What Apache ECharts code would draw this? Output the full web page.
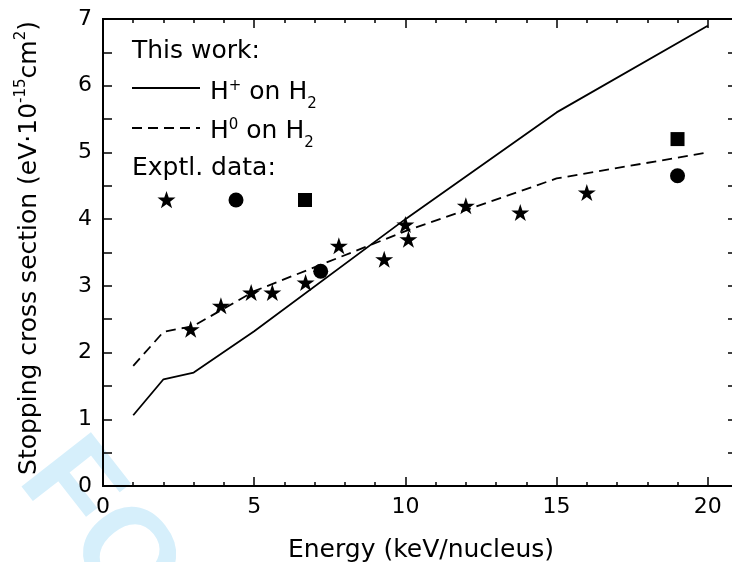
<!DOCTYPE html>
<html>
<head>
<meta charset="utf-8">
<script src="https://cdn.jsdelivr.net/npm/echarts@6/dist/echarts.min.js"></script>
<style>
  html, body { margin: 0; padding: 0; background: #fff; }
  #chart { width: 732px; height: 562px; }
</style>
</head>
<body>
<div id="chart"></div>
<script>
// Stopping cross section of H2 for hydrogen projectiles (keV/nucleus vs 1e-15 eV cm^2)
const ionEnergy = [1, 2, 3, 5, 10, 15, 20];
const ionStopping = [1.06, 1.60, 1.70, 2.32, 4.00, 5.60, 6.90];          // H+ on H2
const neutralEnergy = [1, 2, 3, 5, 10, 15, 20];
const neutralStopping = [1.80, 2.31, 2.40, 2.92, 3.82, 4.61, 5.00];      // H0 on H2

const starEnergy = [2.9, 3.9, 4.9, 5.6, 6.7, 7.8, 9.3, 10.0, 10.1, 12.0, 13.8, 16.0];
const starStopping = [2.35, 2.70, 2.90, 2.90, 3.05, 3.60, 3.40, 3.92, 3.70, 4.20, 4.10, 4.40];
const circleEnergy = [7.2, 19.0];
const circleStopping = [3.22, 4.65];
const squareEnergy = [19.0];
const squareStopping = [5.20];

const xTickLabels = [0, 5, 10, 15, 20];
const yTickLabels = [0, 1, 2, 3, 4, 5, 6, 7];

const FONT = '"DejaVu Sans", Verdana, sans-serif';
const STAR_PATH = 'path://M50,0 L61.2,34.5 L97.6,34.5 L68.2,55.9 L79.4,90.5 L50,69.1 L20.6,90.5 L31.8,55.9 L2.4,34.5 L38.8,34.5 Z';

const zip = (xs, ys) => xs.map((x, i) => [x, ys[i]]);

// Lay out a run of text pieces (for super/subscripts) left to right
const measureCtx = document.createElement('canvas').getContext('2d');
function textRun(parts, x0, y0) {
  let x = x0;
  const els = [];
  for (const [t, size, dy] of parts) {
    const font = size + 'px ' + FONT;
    els.push({
      type: 'text', x: x, y: y0 + dy,
      style: { text: t, font: font, fill: '#000', textAlign: 'left', textVerticalAlign: 'middle' }
    });
    measureCtx.font = font;
    x += measureCtx.measureText(t).width;
  }
  return { els: els, width: x - x0 };
}

function starPoints(cx, cy, R, r) {
  const pts = [];
  for (let i = 0; i < 10; i++) {
    const a = -Math.PI / 2 + i * Math.PI / 5;
    const rad = i % 2 === 0 ? R : r;
    pts.push([cx + rad * Math.cos(a), cy + rad * Math.sin(a)]);
  }
  return pts;
}

// Axis title (vertical), built around its centre then rotated
const yTitleParts = [
  ['Stopping cross section (eV\u00b710', 25, 0],
  ['-15', 15, -8],
  ['cm', 25, 0],
  ['2', 15, -8],
  [')', 25, 0]
];
let yRun = textRun(yTitleParts, 0, 0);
yRun = textRun(yTitleParts, -yRun.width / 2, 0);

const legendIon = textRun([['H', 25, 0], ['+', 15, -6], [' on H', 25, 0], ['2', 15, 12]], 210, 92);
const legendNeutral = textRun([['H', 25, 0], ['0', 15, -6], [' on H', 25, 0], ['2', 15, 12]], 210, 131);

const axisLineStyle = { color: '#000', width: 2 };
const tickStyle = { color: '#000', width: 1.5 };

function frameAxis(position, interval, tickLen) {
  return {
    type: 'value', min: 0, max: 21, interval: interval, position: position,
    axisLine: { show: true, onZero: false, lineStyle: axisLineStyle },
    axisTick: { show: true, inside: true, length: tickLen, lineStyle: tickStyle },
    axisLabel: { show: false },
    splitLine: { show: false }
  };
}

const markerStyle = { color: '#000', opacity: 1 };

const option = {
  animation: false,
  backgroundColor: '#fff',
  grid: { left: 103, top: 19, right: -6, bottom: 76, outerBoundsMode: 'none' },
  xAxis: [
    {
      type: 'value', min: 0, max: 21, interval: 5, position: 'bottom',
      axisLine: { show: true, onZero: false, lineStyle: axisLineStyle },
      axisTick: { show: true, inside: true, length: 9, lineStyle: tickStyle },
      axisLabel: {
        margin: 10, color: '#000', fontSize: 22, fontFamily: FONT,
        formatter: v => (xTickLabels.includes(v) ? String(v) : '')
      },
      splitLine: { show: false }
    },
    frameAxis('bottom', 1, 4),
    frameAxis('top', 5, 9),
    frameAxis('top', 1, 4)
  ],
  yAxis: [
    {
      type: 'value', min: 0, max: 7, interval: 0.5, position: 'left',
      axisLine: { show: true, onZero: false, lineStyle: axisLineStyle },
      axisTick: { show: true, inside: true, length: 9, lineStyle: tickStyle },
      axisLabel: {
        margin: 11, color: '#000', fontSize: 22, fontFamily: FONT,
        formatter: v => (yTickLabels.includes(v) ? String(v) : '')
      },
      splitLine: { show: false }
    },
    {
      type: 'value', min: 0, max: 7, interval: 0.5, position: 'right',
      axisLine: { show: true, onZero: false, lineStyle: axisLineStyle },
      axisTick: { show: true, inside: true, length: 10, lineStyle: tickStyle },
      axisLabel: { show: false },
      splitLine: { show: false }
    }
  ],
  series: [
    {
      name: 'H+ on H2', type: 'line', data: zip(ionEnergy, ionStopping),
      symbol: 'none', lineStyle: { color: '#000', width: 1.8, type: 'solid' }, z: 3
    },
    {
      name: 'H0 on H2', type: 'line', data: zip(neutralEnergy, neutralStopping),
      symbol: 'none', lineStyle: { color: '#000', width: 1.8, type: [10, 6] }, z: 3
    },
    {
      name: 'Exptl. star', type: 'scatter', data: zip(starEnergy, starStopping),
      symbol: STAR_PATH, symbolSize: [18, 17], itemStyle: markerStyle, z: 4
    },
    {
      name: 'Exptl. circle', type: 'scatter', data: zip(circleEnergy, circleStopping),
      symbol: 'circle', symbolSize: 15, itemStyle: markerStyle, z: 4
    },
    {
      name: 'Exptl. square', type: 'scatter', data: zip(squareEnergy, squareStopping),
      symbol: 'rect', symbolSize: 14, itemStyle: markerStyle, z: 4
    }
  ],
  graphic: [
    // faint watermark lettering
    {
      type: 'text', x: 44, y: 458, rotation: -52 * Math.PI / 180, z: -10, silent: true,
      style: { text: 'FO', font: 'bold 128px "Liberation Sans", Arial, sans-serif', fill: '#d6effb',
               textAlign: 'left', textVerticalAlign: 'middle' }
    },
    // axis titles
    {
      type: 'text', x: 421, y: 550,
      style: { text: 'Energy (keV/nucleus)', font: '25px ' + FONT, fill: '#000',
               textAlign: 'center', textVerticalAlign: 'middle' }
    },
    { type: 'group', x: 29, y: 248, rotation: Math.PI / 2, children: yRun.els },
    // key
    {
      type: 'text', x: 132, y: 51,
      style: { text: 'This work:', font: '25px ' + FONT, fill: '#000', textAlign: 'left', textVerticalAlign: 'middle' }
    },
    {
      type: 'line', shape: { x1: 132, y1: 88, x2: 200, y2: 88 },
      style: { stroke: '#000', lineWidth: 1.8 }
    },
    { type: 'group', children: legendIon.els },
    {
      type: 'line', shape: { x1: 132, y1: 128, x2: 200, y2: 128 },
      style: { stroke: '#000', lineWidth: 1.8, lineDash: [10, 6] }
    },
    { type: 'group', children: legendNeutral.els },
    {
      type: 'text', x: 132, y: 168,
      style: { text: 'Exptl. data:', font: '25px ' + FONT, fill: '#000', textAlign: 'left', textVerticalAlign: 'middle' }
    },
    { type: 'polygon', shape: { points: starPoints(166.5, 200.5, 9.5, 3.8) }, style: { fill: '#000' } },
    { type: 'circle', shape: { cx: 236, cy: 200, r: 7.5 }, style: { fill: '#000' } },
    { type: 'rect', shape: { x: 298, y: 193, width: 14, height: 14 }, style: { fill: '#000' } }
  ]
};

const chart = echarts.init(document.getElementById('chart'), null, { renderer: 'canvas' });
chart.setOption(option);
</script>
</body>
</html>
